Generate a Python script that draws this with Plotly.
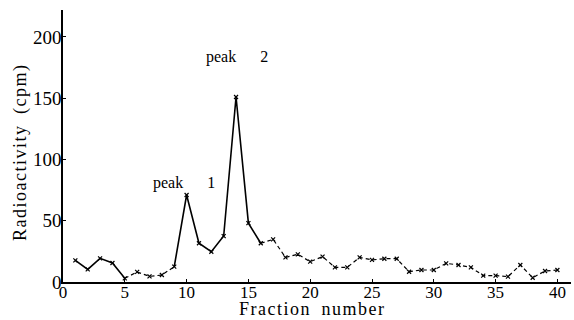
import plotly.graph_objects as go

fractions = list(range(1, 41))
cpm = [17.7, 10.3, 19.3, 15.5, 3.0, 8.2, 4.6, 5.7, 12.5, 71.0,
       31.6, 24.7, 37.5, 151.0, 48.0, 31.6, 34.8, 20.1, 22.6, 16.6,
       20.7, 12.0, 12.0, 20.1, 18.0, 19.0, 19.0, 8.4, 9.8, 9.8,
       15.2, 13.9, 12.0, 5.2, 5.2, 4.4, 13.9, 3.5, 9.0, 9.8]
# segments drawn solid / dashed (start, end fraction, inclusive)
solid_segments = [(1, 5), (9, 16)]
dashed_segments = [(5, 9), (16, 40)]
x_ticks = [0, 5, 10, 15, 20, 25, 30, 35, 40]
y_ticks = [0, 50, 100, 150, 200]
peak_names = ["peak", "peak"]
peak_numbers = ["1", "2"]
x_title = "Fraction number"
y_title = "Radioactivity (cpm)"

FONT = "Liberation Serif"
HS = "\u200a"  # hair space for letter spacing
NB = "\u00a0"


def spaced(s):
    return HS.join(ch if ch != " " else NB + NB for ch in s)


fig = go.Figure()

for a, b in solid_segments:
    fig.add_trace(go.Scatter(x=fractions[a-1:b], y=cpm[a-1:b], mode="lines",
                             line=dict(color="black", width=1.6), hoverinfo="skip"))
for a, b in dashed_segments:
    fig.add_trace(go.Scatter(x=fractions[a-1:b], y=cpm[a-1:b], mode="lines",
                             line=dict(color="black", width=1.2, dash="4px,3px"), hoverinfo="skip"))
fig.add_trace(go.Scatter(x=fractions, y=cpm, mode="markers",
                         marker=dict(symbol="x-thin", size=4, color="black",
                                     line=dict(color="black", width=1.2))))

# peak labels placed above the two maxima
label_pos = [(9.8, 81.0), (14.05, 183.5)]
for name, num, (xv, yv) in zip(peak_names, peak_numbers, label_pos):
    fig.add_annotation(x=xv, y=yv, text=name + NB * 6 + num, showarrow=False,
                       xanchor="center", yanchor="middle",
                       font=dict(family=FONT, size=16, color="black"))

# axis titles as annotations for precise placement
fig.add_annotation(xref="paper", yref="paper", x=0.489, y=-0.1,
                   text=spaced(x_title), showarrow=False, xanchor="center", yanchor="middle",
                   font=dict(family=FONT, size=18, color="black"))
fig.add_annotation(xref="paper", yref="paper", x=-0.0846, y=0.474, textangle=-90,
                   text=spaced(y_title), showarrow=False, xanchor="center", yanchor="middle",
                   font=dict(family=FONT, size=18, color="black"))

fig.update_layout(
    width=574, height=320, showlegend=False,
    paper_bgcolor="white", plot_bgcolor="white",
    margin=dict(l=63, r=3, t=10, b=38),
    font=dict(family=FONT, color="black"),
)
fig.update_xaxes(range=[0, 41.1], tickvals=x_ticks, showgrid=False, zeroline=False,
                 showline=True, linecolor="black", linewidth=1.5,
                 ticks="inside", ticklen=3, tickcolor="black", ticklabelstandoff=-6,
                 tickfont=dict(family=FONT, size=17, color="black"))
fig.update_yaxes(range=[0, 222], tickvals=y_ticks, showgrid=False, zeroline=False,
                 showline=True, linecolor="black", linewidth=1.5,
                 ticks="inside", ticklen=3, tickcolor="black", ticklabelstandoff=-4,
                 tickfont=dict(family=FONT, size=19, color="black"))

fig.write_html("out.html")
